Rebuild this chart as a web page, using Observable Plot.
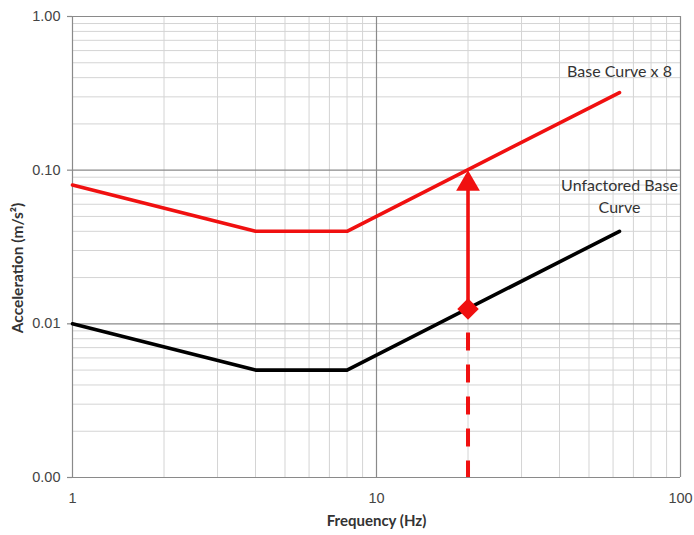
<!DOCTYPE html>
<html>
<head>
<meta charset="utf-8">
<script src="https://cdn.jsdelivr.net/npm/d3@7"></script>
<script src="https://cdn.jsdelivr.net/npm/@observablehq/plot@0.6"></script>
<style>
  html, body { margin: 0; padding: 0; background: #fff; }
  #chart svg { display: block; }
</style>
</head>
<body>
<div id="chart"></div>
<script>
// ---- data ----
const freq = [1, 4, 8, 63];                       // Hz
const baseCurve = [0.01, 0.005, 0.005, 0.04];     // unfactored base curve (m/s²)
const factoredCurve = [0.08, 0.04, 0.04, 0.32];   // base curve x 8
const checkFreq = [20];
const checkBase = [0.0125];
const checkFactored = [0.1];
const floorValue = [0.001];

const xMajor = [1, 10, 100];
const xTickLabels = ["1", "10", "100"];
const yMajor = [0.001, 0.01, 0.1, 1];
const yTickLabels = ["0.00", "0.01", "0.10", "1.00"];
const minorMult = [2, 3, 4, 5, 6, 7, 8, 9];
const xDecades = [1, 10];
const yDecades = [0.001, 0.01, 0.1];

const labelBase8 = ["Base Curve x 8"];
const labelUnfactored1 = ["Unfactored Base"];
const labelUnfactored2 = ["Curve"];
const labelEndFreq = [63];

// ---- derived tables ----
const baseRows = freq.map((f, i) => ({f, v: baseCurve[i]}));
const factRows = freq.map((f, i) => ({f, v: factoredCurve[i]}));
const xMinor = xDecades.flatMap(d => minorMult.map(m => d * m));
const yMinor = yDecades.flatMap(d => minorMult.map(m => d * m));
const checkRows = checkFreq.map((f, i) => ({f, lo: checkBase[i], hi: checkFactored[i], floor: floorValue[0]}));
const yLabelRows = yMajor.map((v, i) => ({v, t: yTickLabels[i]}));
const xLabelRows = xMajor.map((v, i) => ({v, t: xTickLabels[i]}));
const baseEnd = [{f: labelEndFreq[0], v: baseCurve[baseCurve.length - 1]}];
const factEnd = [{f: labelEndFreq[0], v: factoredCurve[factoredCurve.length - 1]}];

const font = "Lato, 'Open Sans', sans-serif";
const tickFont = "'Liberation Sans', Arial, sans-serif";
const red = "#f01010";

const chart = Plot.plot({
  width: 694,
  height: 535,
  marginLeft: 72,
  marginRight: 14,
  marginTop: 16,
  marginBottom: 58,
  style: {fontFamily: font, background: "#fff", overflow: "visible"},
  x: {type: "log", domain: [1, 100], axis: null},
  y: {type: "log", domain: [0.001, 1], axis: null},
  marks: [
    // minor grid
    Plot.ruleX(xMinor, {stroke: "#d4d4d4", strokeWidth: 1}),
    Plot.ruleY(yMinor, {stroke: "#d4d4d4", strokeWidth: 1}),
    // major grid
    Plot.ruleX(xMajor, {stroke: "#8a8a8a", strokeWidth: 1.2}),
    Plot.ruleY(yMajor, {stroke: "#8a8a8a", strokeWidth: 1.2}),
    // y tick marks (short, outside the frame)
    Plot.tickY(yMajor, {y: d => d, stroke: "#8a8a8a", strokeWidth: 1.2, dx: -5, insetRight: 603}),
    // tick labels
    Plot.text(yLabelRows, {
      y: "v", text: "t", frameAnchor: "left", textAnchor: "end", lineAnchor: "middle", dx: -12,
      fontSize: 14.5, fill: "#444", fontFamily: tickFont
    }),
    Plot.text(xLabelRows, {
      x: "v", text: "t", frameAnchor: "bottom", textAnchor: "middle", lineAnchor: "middle", dy: 21,
      fontSize: 14.5, fill: "#444", fontFamily: tickFont
    }),
    // axis titles
    Plot.text(["Frequency (Hz)"], {
      frameAnchor: "bottom", textAnchor: "middle", lineAnchor: "middle", dy: 44,
      fontSize: 15, fontWeight: "bold", fill: "#333"
    }),
    Plot.text(["Acceleration (m/s²)"], {
      frameAnchor: "left", textAnchor: "middle", lineAnchor: "middle", dx: -54, dy: 21, rotate: -90,
      fontSize: 15.5, fontWeight: "bold", fill: "#333"
    }),
    // curves
    Plot.line(baseRows, {x: "f", y: "v", stroke: "#000", strokeWidth: 3.6}),
    Plot.line(factRows, {x: "f", y: "v", stroke: red, strokeWidth: 3.6}),
    // dashed drop line
    Plot.ruleX(checkRows, {x: "f", y1: "lo", y2: "floor", stroke: red, strokeWidth: 4,
      strokeDasharray: "18,14", insetTop: 24}),
    // arrow shaft
    Plot.ruleX(checkRows, {x: "f", y1: "hi", y2: "lo", stroke: red, strokeWidth: 3.6, insetTop: 14}),
    // arrow head
    Plot.dot(checkRows, {x: "f", y: "hi", symbol: "triangle", r: 8.8, fill: red, stroke: "none", dy: 13.7}),
    // diamond
    Plot.dot(checkRows, {x: "f", y: "lo", symbol: "square", r: 8.6, fill: red, stroke: "none", rotate: 45}),
    // annotations
    Plot.text(factEnd, {x: "f", y: "v", text: () => labelBase8[0], dy: -21, fontSize: 16, fill: "#333", textAnchor: "middle", lineAnchor: "middle"}),
    Plot.text(baseEnd, {x: "f", y: "v", text: () => labelUnfactored1[0], dy: -45, fontSize: 16, fill: "#333", textAnchor: "middle", lineAnchor: "middle"}),
    Plot.text(baseEnd, {x: "f", y: "v", text: () => labelUnfactored2[0], dy: -23, fontSize: 16, fill: "#333", textAnchor: "middle", lineAnchor: "middle"})
  ]
});
document.getElementById("chart").appendChild(chart);
</script>
</body>
</html>
